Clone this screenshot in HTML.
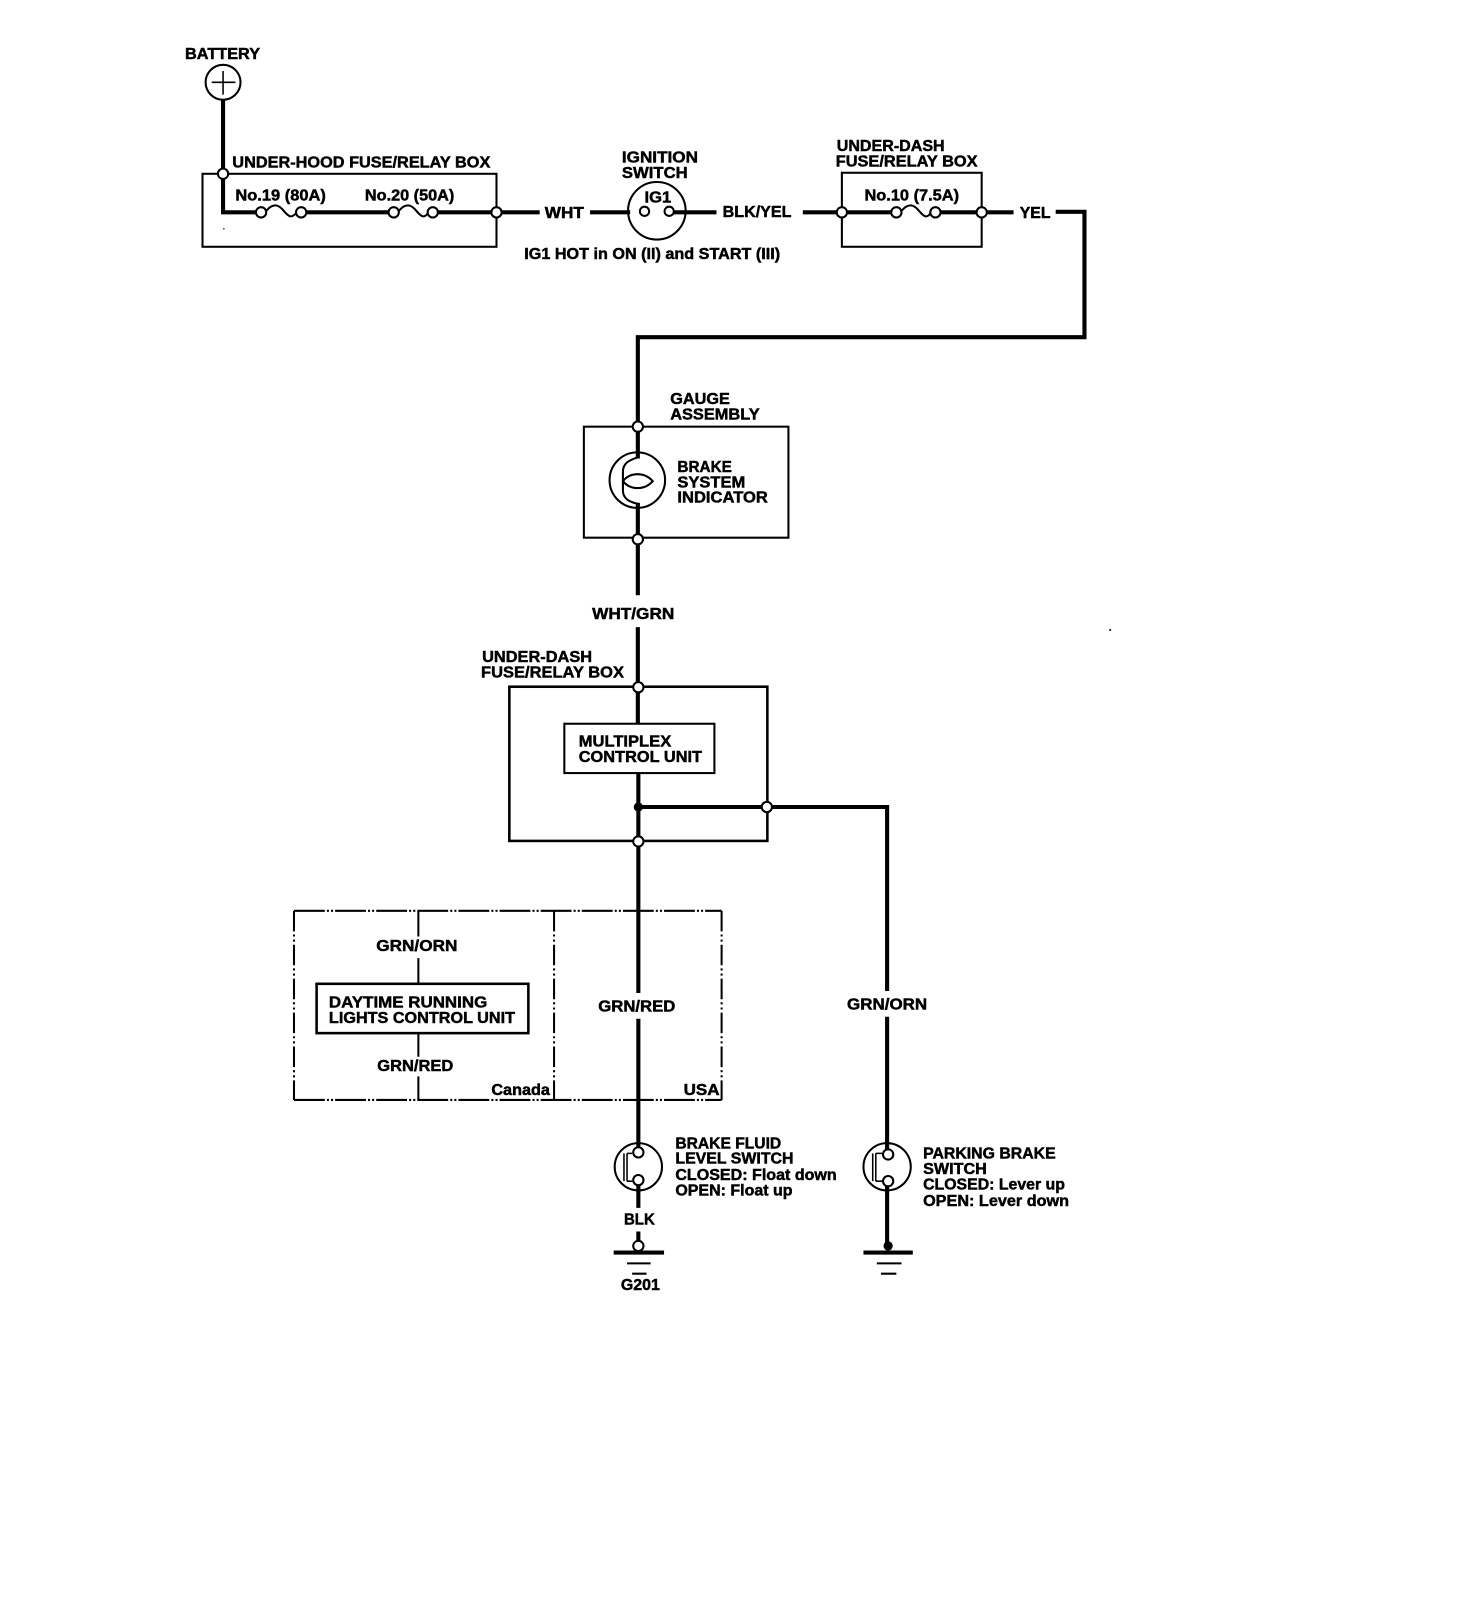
<!DOCTYPE html>
<html lang="en"><head><meta charset="utf-8"><title>Brake system indicator circuit</title>
<style>
html,body{margin:0;padding:0;background:#fff}
svg{display:block}
text{font-family:"Liberation Sans",Arial,sans-serif;font-weight:bold;font-size:15px;fill:#000;stroke:#000;stroke-width:.45px}
.w{fill:none;stroke:#000;stroke-width:4}
.t{fill:none;stroke:#000;stroke-width:2}
.n{fill:#fff;stroke:#000;stroke-width:2}
.d{fill:none;stroke:#000;stroke-width:2;stroke-dasharray:30 2 2 2 2 2}
.v{fill:none;stroke:#000;stroke-width:2;stroke-dasharray:20 3 2 3 2 3}
</style></head><body>
<svg xmlns="http://www.w3.org/2000/svg" width="1472" height="1614" viewBox="0 0 1432 1570">
<rect width="1432" height="1570" fill="#fff"/>
<g transform="translate(1,1)">

<!-- Boxes -->
<rect class="t" x="196" y="168" width="286" height="71"/>
<rect class="t" x="818" y="167" width="136" height="72"/>
<rect class="t" x="567" y="414" width="199" height="108"/>
<rect class="t" x="494.500" y="667" width="251" height="150" style="stroke-width:2.500"/>

<!-- Main wires -->
<path class="w" d="M216 96V205.500H524"/>
<path class="w" d="M573 205.500H612M654 205.500H696M780 205.500H985M1026 205H1054V327H619.500V445M619.500 488V578M619.500 609V703M620 751V965M620 990V1116M620 1152V1174M620 1197V1206"/>
<path class="w" d="M620 784H862V963M862 988V1118M862 1150V1212"/>

<!-- White gaps for fuses -->
<path d="M258 205.500H287M387 205.500H415M876 205.500H904" stroke="#fff" stroke-width="6" fill="none"/>
<path class="t" d="M258 204C265 196 270 198 275 204S283 212 288 205M387 204C394 196 399 198 404 204S412 212 416 205M876 204C883 196 888 198 893 204S901 212 905 205"/>

<!-- Battery -->
<circle class="t" cx="216" cy="79" r="17"/>
<path d="M205 79H228M216 68V91" stroke="#000" stroke-width="1.500"/>

<!-- Ignition -->
<circle class="t" cx="638" cy="204" r="28"/>

<!-- Bulb -->
<circle class="t" cx="619" cy="466" r="27"/>
<path class="t" d="M619 444C610 447 605 450 605 458V476C605 484 611 487 619 489"/>
<path class="t" d="M605 467C612 458 626 458 634 467C626 476 612 476 605 467Z"/>

<!-- Inner boxes -->
<rect x="548" y="703" width="146" height="48" fill="#fff" stroke="#000" stroke-width="2"/>
<circle cx="620" cy="784" r="4.500" fill="#000"/>

<!-- Option area -->
<path class="d" d="M285 885H701M285 1069H701"/>
<path class="v" d="M285 885V1069M538 885V1069M701 885V1069"/>
<path class="t" d="M406 885V910M406 931V956M406 1004V1027M406 1046V1069"/>
<rect x="307" y="956" width="206" height="48" fill="#fff" stroke="#000" stroke-width="2.500"/>

<!-- Switches -->
<circle class="t" cx="620" cy="1134" r="23"/>
<path class="t" d="M606 1121V1148M609 1121V1148" style="stroke-width:1.500"/>
<path class="t" d="M609 1121H614M609 1148H614" style="stroke-width:1.500"/>
<circle class="t" cx="862" cy="1134" r="23"/>
<path class="t" d="M848 1121V1148M851 1121V1148" style="stroke-width:1.500"/>
<path class="t" d="M851 1121H857M851 1148H857" style="stroke-width:1.500"/>

<!-- Grounds -->
<path d="M596 1217.500H645M839 1217.500H887" stroke="#000" stroke-width="4"/>
<path d="M609 1228H632M852 1228H876M614 1238H628M856 1238H871" stroke="#000" stroke-width="2"/>
<circle cx="863" cy="1211" r="4.500" fill="#000"/>

<!-- Nodes -->
<g class="n">
<circle cx="216" cy="168" r="5"/><circle cx="253" cy="205.500" r="5"/><circle cx="292" cy="205.500" r="5"/>
<circle cx="382" cy="205.500" r="5"/><circle cx="420" cy="205.500" r="5"/><circle cx="482" cy="205.500" r="5"/>
<circle cx="626" cy="204.500" r="4.500"/><circle cx="650" cy="204.500" r="4.500"/>
<circle cx="818" cy="205.500" r="5"/><circle cx="871" cy="205.500" r="5"/><circle cx="909" cy="205.500" r="5"/><circle cx="954" cy="205.500" r="5"/>
<circle cx="619.500" cy="414" r="5"/><circle cx="619.500" cy="523.500" r="5"/>
<circle cx="620" cy="667.500" r="5"/><circle cx="620" cy="817.500" r="5"/><circle cx="745" cy="784" r="5"/>
<circle cx="620" cy="1120" r="5"/><circle cx="620" cy="1147" r="5"/><circle cx="863" cy="1122" r="5"/><circle cx="863" cy="1148" r="5"/>
<circle cx="620" cy="1211" r="5"/>
</g>
<rect x="216" y="221" width="1.500" height="1" fill="#000"/><rect x="1078" y="611" width="2" height="1.500" fill="#000"/>

<!-- Text -->
<text x="179" y="56.500" textLength="73" lengthAdjust="spacingAndGlyphs">BATTERY</text>
<text x="225" y="162" textLength="251" lengthAdjust="spacingAndGlyphs">UNDER-HOOD FUSE/RELAY BOX</text>
<text x="228" y="194" textLength="88" lengthAdjust="spacingAndGlyphs">No.19 (80A)</text>
<text x="354" y="194" textLength="87" lengthAdjust="spacingAndGlyphs">No.20 (50A)</text>
<text x="529" y="211" textLength="38" lengthAdjust="spacingAndGlyphs">WHT</text>
<text x="604" y="157" textLength="74" lengthAdjust="spacingAndGlyphs">IGNITION</text>
<text x="604" y="172" textLength="64" lengthAdjust="spacingAndGlyphs">SWITCH</text>
<text x="626" y="196" textLength="26" lengthAdjust="spacingAndGlyphs">IG1</text>
<text x="702" y="210" textLength="67" lengthAdjust="spacingAndGlyphs">BLK/YEL</text>
<text x="509" y="251" textLength="249" lengthAdjust="spacingAndGlyphs">IG1 HOT in ON (II) and START (III)</text>
<text x="813" y="146" textLength="105" lengthAdjust="spacingAndGlyphs">UNDER-DASH</text>
<text x="812" y="161" textLength="138" lengthAdjust="spacingAndGlyphs">FUSE/RELAY BOX</text>
<text x="840" y="194" textLength="92" lengthAdjust="spacingAndGlyphs">No.10 (7.5A)</text>
<text x="991" y="211" textLength="30" lengthAdjust="spacingAndGlyphs">YEL</text>
<text x="651" y="392" textLength="58" lengthAdjust="spacingAndGlyphs">GAUGE</text>
<text x="651" y="407" textLength="87" lengthAdjust="spacingAndGlyphs">ASSEMBLY</text>
<text x="658" y="458" textLength="53" lengthAdjust="spacingAndGlyphs">BRAKE</text>
<text x="658" y="473" textLength="66" lengthAdjust="spacingAndGlyphs">SYSTEM</text>
<text x="658" y="488" textLength="88" lengthAdjust="spacingAndGlyphs">INDICATOR</text>
<text x="575" y="601" textLength="80" lengthAdjust="spacingAndGlyphs">WHT/GRN</text>
<text x="468" y="643" textLength="107" lengthAdjust="spacingAndGlyphs">UNDER-DASH</text>
<text x="467" y="658" textLength="139" lengthAdjust="spacingAndGlyphs">FUSE/RELAY BOX</text>
<text x="562" y="725" textLength="90" lengthAdjust="spacingAndGlyphs">MULTIPLEX</text>
<text x="562" y="740" textLength="120" lengthAdjust="spacingAndGlyphs">CONTROL UNIT</text>
<text x="365" y="924" textLength="79" lengthAdjust="spacingAndGlyphs">GRN/ORN</text>
<text x="319" y="979" textLength="154" lengthAdjust="spacingAndGlyphs">DAYTIME RUNNING</text>
<text x="319" y="994" textLength="181" lengthAdjust="spacingAndGlyphs">LIGHTS CONTROL UNIT</text>
<text x="366" y="1041" textLength="74" lengthAdjust="spacingAndGlyphs">GRN/RED</text>
<text x="477" y="1064" textLength="57" lengthAdjust="spacingAndGlyphs">Canada</text>
<text x="664" y="1064" textLength="35" lengthAdjust="spacingAndGlyphs">USA</text>
<text x="581" y="983" textLength="75" lengthAdjust="spacingAndGlyphs">GRN/RED</text>
<text x="823" y="981" textLength="78" lengthAdjust="spacingAndGlyphs">GRN/ORN</text>
<text x="656" y="1116" textLength="103" lengthAdjust="spacingAndGlyphs">BRAKE FLUID</text>
<text x="656" y="1131" textLength="115" lengthAdjust="spacingAndGlyphs">LEVEL SWITCH</text>
<text x="656" y="1147" textLength="157" lengthAdjust="spacingAndGlyphs">CLOSED: Float down</text>
<text x="656" y="1162" textLength="114" lengthAdjust="spacingAndGlyphs">OPEN: Float up</text>
<text x="606" y="1190" textLength="30" lengthAdjust="spacingAndGlyphs">BLK</text>
<text x="603" y="1254" textLength="38" lengthAdjust="spacingAndGlyphs">G201</text>
<text x="897" y="1126" textLength="129" lengthAdjust="spacingAndGlyphs">PARKING BRAKE</text>
<text x="897" y="1141" textLength="62" lengthAdjust="spacingAndGlyphs">SWITCH</text>
<text x="897" y="1156" textLength="138" lengthAdjust="spacingAndGlyphs">CLOSED: Lever up</text>
<text x="897" y="1172" textLength="142" lengthAdjust="spacingAndGlyphs">OPEN: Lever down</text>
</g>
</svg>
</body></html>
